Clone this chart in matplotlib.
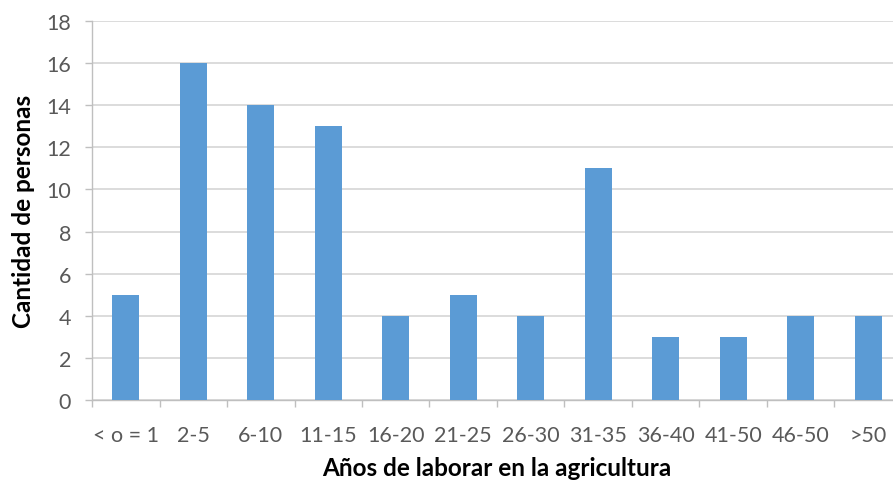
import matplotlib
matplotlib.use("Agg")
import matplotlib.pyplot as plt
import numpy as np

categories = ["< o = 1", "2-5", "6-10", "11-15", "16-20", "21-25", "26-30",
              "31-35", "36-40", "41-50", "46-50", ">50"]
personas = [5, 16, 14, 13, 4, 5, 4, 11, 3, 3, 4, 4]
y_ticks = [0, 2, 4, 6, 8, 10, 12, 14, 16, 18]

plt.rcParams["font.family"] = ["Lato", "DejaVu Sans"]

W, H = 893, 485
fig = plt.figure(figsize=(W / 100, H / 100), dpi=100)
ax = fig.add_axes([92 / W, (H - 401) / H, 810 / W, 379 / H])

x = np.arange(len(categories))
ax.bar(x, personas, width=0.4, color="#5B9BD5", zorder=3)

ax.set_xlim(-0.5, len(categories) - 0.5)
ax.set_ylim(0, 18)
ax.set_yticks(y_ticks)
ax.grid(axis="y", color="#d9d9d9", linewidth=1.3, zorder=0)
ax.set_axisbelow(True)

ax.set_xticks(x)
ax.set_xticklabels(categories)
ax.set_xticks(np.arange(-0.5, len(categories)), minor=True)
ax.tick_params(axis="x", which="major", length=0, pad=18,
               labelsize=15.5, labelcolor="#595959")
ax.tick_params(axis="x", which="minor", length=5, width=1, color="#bfbfbf")
ax.tick_params(axis="y", length=5, width=1, color="#bfbfbf", pad=10,
               labelsize=15.5, labelcolor="#595959")

for side in ("top", "right"):
    ax.spines[side].set_visible(False)
for side in ("left", "bottom"):
    ax.spines[side].set_color("#bfbfbf")
    ax.spines[side].set_linewidth(1)

ax.set_xlabel("Años de laborar en la agricultura", fontsize=17.5,
              fontweight="bold", color="black", labelpad=8)
ax.set_ylabel("Cantidad de personas", fontsize=17.5,
              fontweight="bold", color="black", labelpad=8)

fig.savefig("out.png", dpi=100)
